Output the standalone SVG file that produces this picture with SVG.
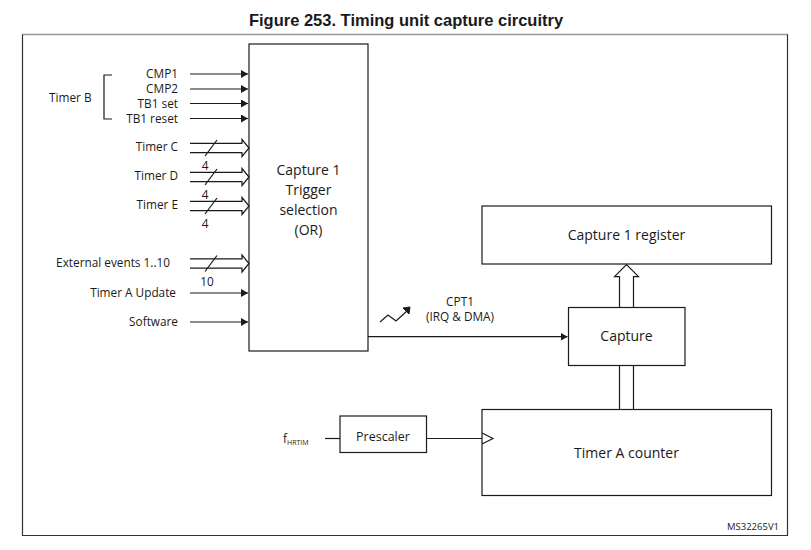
<svg xmlns="http://www.w3.org/2000/svg" width="811" height="550" viewBox="0 0 811 550">
<style>
text{font-family:"Open Sans","Liberation Sans",sans-serif;fill:#1a1a1a}
.s{font-size:11.8px}
.b{font-size:14px}
.r{text-anchor:end}
.m{text-anchor:middle}
.box{fill:#fff;stroke:#1a1a1a;stroke-width:1.2}
.ln{fill:none;stroke:#1a1a1a;stroke-width:1.2}
</style>
<defs>
<marker id="ah" markerWidth="8" markerHeight="8" refX="7" refY="4" orient="auto" markerUnits="userSpaceOnUse">
<path d="M0,0 L7,4 L0,8 Z" fill="#1a1a1a"/>
</marker>
</defs>
<rect width="811" height="550" fill="#fff"/>
<text x="406" y="26" class="m" style="font-family:'Liberation Sans',Arial,sans-serif;font-weight:bold;font-size:16.5px">Figure 253. Timing unit capture circuitry</text>
<line x1="22" y1="34.5" x2="788" y2="34.5" stroke="#999" stroke-width="1.5"/>
<path d="M22.5,34.5 V535.5 H787.5 V34.5" fill="none" stroke="#333" stroke-width="1.2"/>

<g id="trigger"><rect class="box" x="249" y="44" width="119" height="307"/>
<text class="b m" x="308.5" y="175">Capture 1</text>
<text class="b m" x="308.5" y="195">Trigger</text>
<text class="b m" x="308.5" y="215">selection</text>
<text class="b m" x="308.5" y="235">(OR)</text></g>

<g id="register"><rect class="box" x="482" y="206" width="289.5" height="58"/>
<text class="b m" x="626.5" y="240">Capture 1 register</text></g>

<g id="capture"><rect class="box" x="568.5" y="307.5" width="116.5" height="58"/>
<text class="b m" x="626.5" y="341">Capture</text></g>

<g id="counter"><rect class="box" x="482" y="409.5" width="289.5" height="86"/>
<text class="b m" x="626.5" y="458">Timer A counter</text>
<path class="ln" d="M482,433 L493,438.5 L482,444"/></g>

<g id="prescaler"><rect class="box" x="340" y="416" width="86.5" height="36.5"/>
<text class="s m" x="383" y="441" style="font-size:12.5px">Prescaler</text></g>

<g id="labels">
<text class="s" x="49" y="102">Timer B</text>
<path class="ln" d="M112,75 H104 V119 H112"/>
<text class="s r" x="178" y="78">CMP1</text>
<text class="s r" x="178" y="93">CMP2</text>
<text class="s r" x="178" y="107.5">TB1 set</text>
<text class="s r" x="178" y="122.5">TB1 reset</text>
<text class="s r" x="178" y="151">Timer C</text>
<text class="s r" x="178" y="180">Timer D</text>
<text class="s r" x="178" y="209">Timer E</text>
<text class="s r" x="170" y="267">External events 1..10</text>
<text class="s r" x="176" y="297">Timer A Update</text>
<text class="s r" x="178" y="326">Software</text>
<text class="s m" x="205" y="170">4</text>
<text class="s m" x="205" y="199">4</text>
<text class="s m" x="205" y="228">4</text>
<text class="s m" x="207" y="286">10</text>
<text class="s" x="283" y="443">f<tspan font-size="7" dy="2">HRTIM</tspan></text>
<text class="s m" x="460" y="306">CPT1</text>
<text class="s m" x="460" y="321">(IRQ &amp; DMA)</text>
<text x="779" y="530" class="r" style="font-size:9.5px">MS32265V1</text>
</g>

<g id="connectors">
<line class="ln" x1="190" y1="74" x2="248" y2="74" marker-end="url(#ah)"/>
<line class="ln" x1="190" y1="89" x2="248" y2="89" marker-end="url(#ah)"/>
<line class="ln" x1="190" y1="103.5" x2="248" y2="103.5" marker-end="url(#ah)"/>
<line class="ln" x1="190" y1="118.5" x2="248" y2="118.5" marker-end="url(#ah)"/>
<line class="ln" x1="190" y1="293" x2="248" y2="293" marker-end="url(#ah)"/>
<line class="ln" x1="190" y1="322" x2="248" y2="322" marker-end="url(#ah)"/>
<g id="busC"><path class="ln" d="M190,143.3 H242 V139.5 L249,148 L242,156.5 V152.7 H190"/><line class="ln" x1="205" y1="156" x2="217" y2="140"/></g>
<g id="busD"><path class="ln" d="M190,172.3 H242 V168.5 L249,177 L242,185.5 V181.7 H190"/><line class="ln" x1="205" y1="185" x2="217" y2="169"/></g>
<g id="busE"><path class="ln" d="M190,201.3 H242 V197.5 L249,206 L242,214.5 V210.7 H190"/><line class="ln" x1="205" y1="214" x2="217" y2="198"/></g>
<g id="busX"><path class="ln" d="M190,258.8 H242 V255 L249,263.5 L242,272 V268.2 H190"/><line class="ln" x1="205" y1="271.5" x2="217" y2="255.5"/></g>
<line class="ln" x1="368" y1="336.7" x2="567.5" y2="336.7" marker-end="url(#ah)"/>
<path class="ln" d="M380,322 L388,315 L396,321 L407,311"/>
<path d="M403,308 L410,307 L409,314 Z" fill="#1a1a1a" stroke="#1a1a1a" stroke-width="1"/>
<path class="ln" d="M619.5,307.5 V276.7 H614.5 L626.5,264.5 L638.5,276.7 H633.5 V307.5"/>
<path class="ln" d="M619.5,365.5 V409.5 M633.5,365.5 V409.5"/>
<line class="ln" x1="325" y1="438.5" x2="340" y2="438.5"/>
<line class="ln" x1="426.5" y1="438.5" x2="482" y2="438.5"/>
</g>
</svg>
